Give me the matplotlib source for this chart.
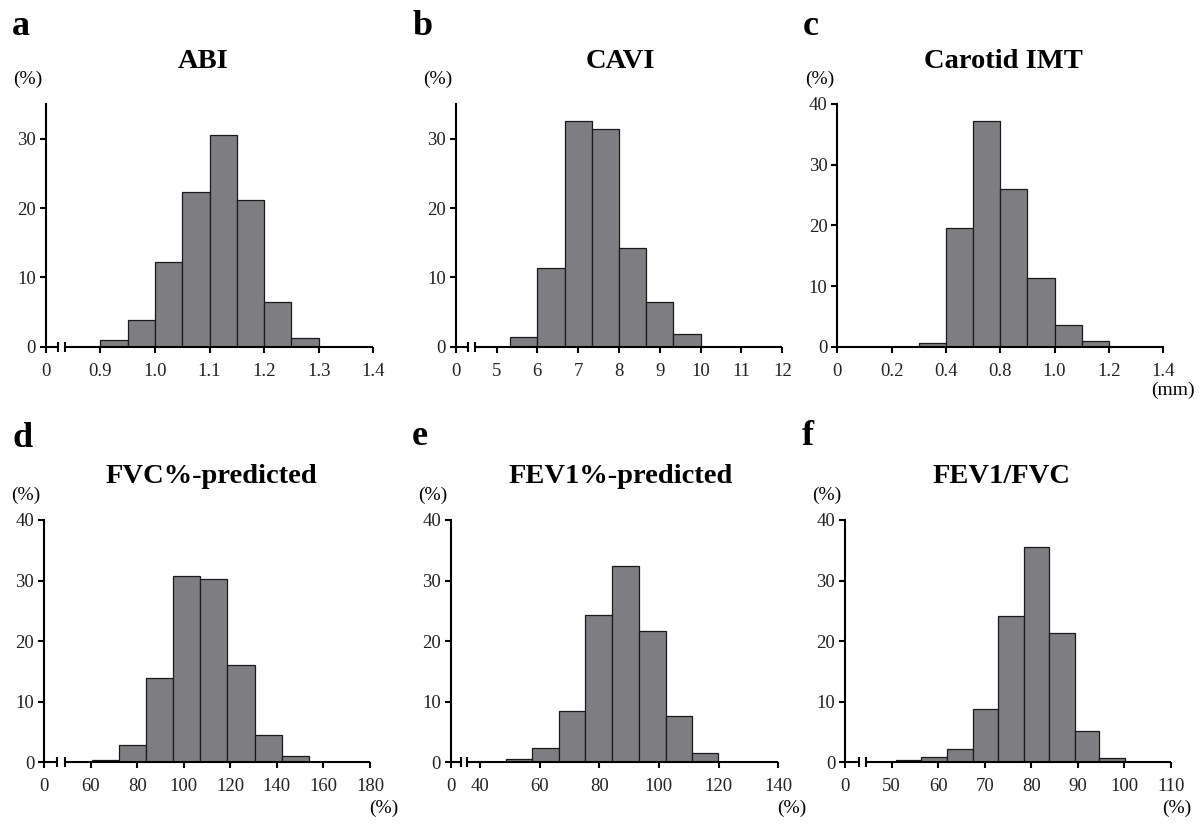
import numpy as np
import matplotlib
matplotlib.use('Agg')
from matplotlib import pyplot as plt

plt.rcParams['font.family'] = ['Liberation Serif', 'DejaVu Serif']

W, H = 1200, 827

# ---- values (bar heights in %) ----
abi_edges = [0.90, 0.95, 1.00, 1.05, 1.10, 1.15, 1.20, 1.25, 1.30]
abi_pct = [0.9, 3.9, 12.2, 22.3, 30.5, 21.1, 6.5, 1.2]
abi_ticks = [0, 0.9, 1.0, 1.1, 1.2, 1.3, 1.4]
abi_labels = ['0', '0.9', '1.0', '1.1', '1.2', '1.3', '1.4']

cavi_edges = [5.333, 6.0, 6.667, 7.333, 8.0, 8.667, 9.333, 10.0]
cavi_pct = [1.4, 11.3, 32.5, 31.4, 14.3, 6.4, 1.9]
cavi_ticks = [0, 5, 6, 7, 8, 9, 10, 11, 12]
cavi_labels = ['0', '5', '6', '7', '8', '9', '10', '11', '12']

imt_edges = [0.3, 0.4, 0.5, 0.6, 0.7, 0.8, 0.9, 1.0]
imt_pct = [0.6, 19.5, 37.2, 26.0, 11.4, 3.5, 1.0]
imt_ticks = [0, 0.2, 0.4, 0.6, 0.8, 1.0, 1.2]
imt_labels = ['0', '0.2', '0.4', '0.8', '1.0', '1.2', '1.4']

fvc_edges = [60.4, 72.0, 83.8, 95.3, 107.0, 118.8, 130.5, 142.3, 153.8]
fvc_pct = [0.3, 2.8, 13.9, 30.8, 30.2, 16.0, 4.5, 1.0]
fvc_ticks = [0, 60, 80, 100, 120, 140, 160, 180]
fvc_labels = ['0', '60', '80', '100', '120', '140', '160', '180']

fev1_edges = [48.7, 57.5, 66.4, 75.3, 84.3, 93.3, 102.2, 111.2, 119.9]
fev1_pct = [0.5, 2.3, 8.4, 24.3, 32.4, 21.6, 7.6, 1.6]
fev1_ticks = [0, 40, 60, 80, 100, 120, 140]
fev1_labels = ['0', '40', '60', '80', '100', '120', '140']

ratio_edges = [50.9, 56.3, 61.9, 67.5, 72.9, 78.4, 83.7, 89.4, 94.5, 100.1]
ratio_pct = [0.3, 0.9, 2.2, 8.8, 24.1, 35.5, 21.3, 5.1, 0.7]
ratio_ticks = [0, 50, 60, 70, 80, 90, 100, 110]
ratio_labels = ['0', '50', '60', '70', '80', '90', '100', '110']

BAR = '#7e7e82'


def fx(px):
    return px / W


def fy(py):
    return 1 - py / H


def make_scale(ticks, gap):
    # evenly spaced ticks, with a shorter/longer first step for the broken axis
    pos = np.concatenate([[0.0], gap + np.arange(len(ticks) - 1)])
    tk = np.asarray(ticks, dtype=float)

    def fwd(v):
        return np.interp(v, tk, pos)

    def inv(p):
        return np.interp(p, pos, tk)
    return fwd, inv


def panel(box, letter, title, edges, pct, ticks, labels, ymax, gap=1.0,
          brk=None, unit=None):
    left, right, top, bottom = box
    ax = plt.gcf().add_axes([fx(left), fy(bottom), fx(right - left),
                             (bottom - top) / H])
    ax.set_xscale('function', functions=make_scale(ticks, gap))
    ax.bar(edges[:-1], pct, width=np.diff(edges), align='edge', color=BAR,
           edgecolor='#1a1a1a', linewidth=0.9, zorder=2)
    ax.set_xlim(ticks[0], ticks[-1])
    ax.set_ylim(0, ymax)
    ax.set_xticks(ticks)
    ax.set_xticklabels(labels)
    ax.set_yticks(range(0, ymax + 1, 10))
    ax.xaxis.set_minor_locator(matplotlib.ticker.NullLocator())
    for s in ['top', 'right']:
        ax.spines[s].set_visible(False)
    ax.spines['left'].set_linewidth(1.5)
    ax.spines['bottom'].set_linewidth(1.5)
    ax.tick_params(direction='out', length=4, width=1.5, labelsize=13.5,
                   labelcolor='#222222')
    ax.tick_params(axis='x', pad=7.5)
    ax.tick_params(axis='y', pad=3)
    ax.patch.set_visible(False)

    if brk is not None:
        ax.spines['bottom'].set_visible(False)
        w = right - left
        b1, b2 = brk[0] / w, brk[1] / w
        kw = dict(transform=ax.transAxes, color='black', lw=1.5,
                  clip_on=False, solid_capstyle='butt', zorder=3)
        ax.plot([0, b1], [0, 0], **kw)
        ax.plot([b2, 1], [0, 0], **kw)
        ax.plot([b1, b2], [0, 0], transform=ax.transAxes, ls='none',
                marker='|', ms=7, mew=1.5, color='black', clip_on=False,
                zorder=3)

    fig = plt.gcf()
    fig.text(fx(letter[1]), fy(letter[2]), letter[0], fontsize=26,
             fontweight='bold', va='baseline', ha='left')
    fig.text(fx((left + right) / 2 + title[1]), fy(title[2]), title[0],
             fontsize=20.5, fontweight='bold', ha='center', va='baseline')
    fig.text(fx(left - 18), fy(top - 25), '(%)', fontsize=14, ha='center',
             va='center')
    if unit is not None:
        fig.text(fx(unit[1]), fy(unit[2]), unit[0], fontsize=14,
                 ha='center', va='center')
    return ax


fig = plt.figure(figsize=(12, 8.27), dpi=100)

panel((45.7, 373.3, 104, 346.7), ('a', 12, 35), ('ABI', -6, 68),
      abi_edges, abi_pct, abi_ticks, abi_labels, 35, brk=(12.6, 19.3))
panel((455.7, 782.3, 104, 346.7), ('b', 413, 35), ('CAVI', 1, 68),
      cavi_edges, cavi_pct, cavi_ticks, cavi_labels, 35, brk=(12.6, 19.3))
panel((837.3, 1163.3, 104, 346.7), ('c', 803, 35), ('Carotid IMT', 3, 68),
      imt_edges, imt_pct, imt_ticks, imt_labels, 40,
      unit=('(mm)', 1173, 390))
panel((44, 370, 520, 762.3), ('d', 12, 447), ('FVC%-predicted', 4, 483),
      fvc_edges, fvc_pct, fvc_ticks, fvc_labels, 40, brk=(13.3, 21),
      unit=('(%)', 384, 808))
panel((450.7, 778.3, 520, 762.3), ('e', 412, 445), ('FEV1%-predicted', 6, 483),
      fev1_edges, fev1_pct, fev1_ticks, fev1_labels, 40, gap=0.49,
      brk=(10, 16.6), unit=('(%)', 792, 808))
panel((845, 1171, 520, 762.3), ('f', 802, 445), ('FEV1/FVC', -6, 483),
      ratio_edges, ratio_pct, ratio_ticks, ratio_labels, 40, brk=(14, 20.7),
      unit=('(%)', 1177, 808))

fig.savefig('out.png', dpi=100)
